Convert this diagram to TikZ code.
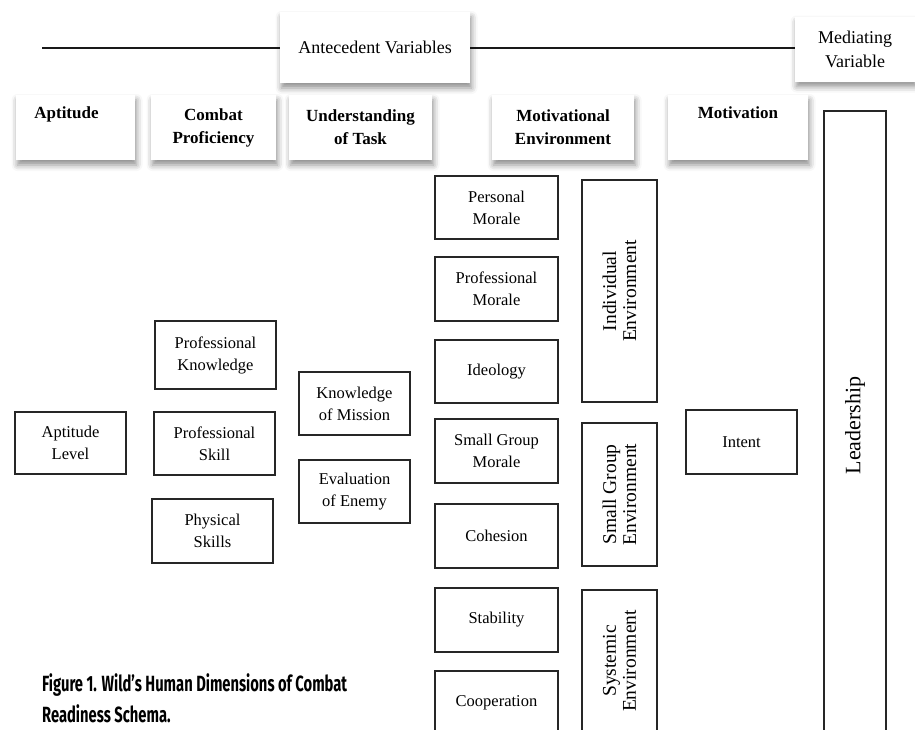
\documentclass[tikz,border=0pt]{standalone}
\usepackage{fontspec}
\setmainfont{Liberation Serif}
\newfontfamily\capfont{Fira Sans}
\usetikzlibrary{shadows.blur}

\begin{document}
\begin{tikzpicture}[x=1pt,y=-1pt,
  box/.style={draw=black!85, line width=1.3pt, fill=white, inner sep=0pt,
    align=center, font=\fontsize{16.5}{22}\selectfont},
  vtext/.style={rotate=90, align=center, inner sep=0pt,
    font=\fontsize{19.5}{20}\selectfont},
  shade/.style={blur shadow={shadow xshift=1.5pt, shadow yshift=-5pt,
      shadow blur radius=6pt, shadow opacity=45}},
  hdr/.style={fill=white, inner sep=0pt, align=center, shade,
    font=\fontsize{17}{23}\selectfont\bfseries},
  toplabel/.style={fill=white, inner sep=0pt, align=center, shade,
    font=\fontsize{18}{24}\selectfont},
  rule/.style={line width=2pt, black!90},
  caption/.style={anchor=base west, inner sep=0pt,
    font=\capfont\bfseries\fontsize{22}{22}\selectfont}
]
\useasboundingbox (0,0) rectangle (915,729);
\clip (0,0) rectangle (915,729);

% ---- variable group labels and rule ----
\coordinate (rulestart) at (42,48);
\draw[rule] (rulestart) -- (801,48) coordinate (ruleend);
\node[toplabel, minimum width=190, minimum height=71] (ante) at (375,47.5) {Antecedent Variables};
\node[toplabel, minimum width=120, minimum height=65] (med) at (855,49) {Mediating\\Variable};

% ---- column headers ----
\node[hdr, minimum width=119, minimum height=65] (hApt) at (75.5,127.5) {Aptitude\hspace*{18pt}\\\strut};
\node[hdr, minimum width=125, minimum height=65] (hCP) at (213.5,127.5) {Combat\\Proficiency};
\node[hdr, minimum width=143, minimum height=65] (hUT) at (360.5,127.5) {Understanding\\of Task};
\node[hdr, minimum width=142, minimum height=65] (hME) at (563,127.5) {Motivational\\Environment};
\node[hdr, minimum width=140, minimum height=65] (hMot) at (738,127.5) {Motivation\\\strut};

% ---- aptitude, proficiency, task ----
\node[box, minimum width=111, minimum height=62] (al) at (70.5,443) {Aptitude\\Level};
\node[box, minimum width=121, minimum height=68] (pk) at (215.5,355) {Professional\\Knowledge};
\node[box, minimum width=121, minimum height=63] (ps) at (214.5,443.5) {Professional\\Skill};
\node[box, minimum width=121, minimum height=64] (phs) at (212.5,531) {Physical\\Skills};
\node[box, minimum width=111, minimum height=63] (km) at (354.5,403.5) {Knowledge\\of Mission};
\node[box, minimum width=111, minimum height=63] (ee) at (354.5,491.5) {Evaluation\\of Enemy};

% ---- motivational environment factors ----
\node[box, minimum width=123, minimum height=63] (pm) at (496.5,207.5) {Personal\\Morale};
\node[box, minimum width=123, minimum height=64] (prm) at (496.5,289) {Professional\\Morale};
\node[box, minimum width=123, minimum height=63] (ideo) at (496.5,371.5) {Ideology};
\node[box, minimum width=123, minimum height=64] (sgm) at (496.5,451) {Small Group\\Morale};
\node[box, minimum width=123, minimum height=64] (coh) at (496.5,536) {Cohesion};
\node[box, minimum width=123, minimum height=64] (stab) at (496.5,620) {Stability};
\node[box, minimum width=123, minimum height=64] (coop) at (496.5,703) {Cooperation};

% ---- environment groupings ----
\node[box, minimum width=75, minimum height=222] (ie) at (619.5,291) {};
\node[vtext] (ieT) at (ie.center) {Individual\\Environment};
\node[box, minimum width=75, minimum height=143] (sge) at (619.5,494.5) {};
\node[vtext] (sgeT) at (sge.center) {Small Group\\Environment};
\node[box, minimum width=75, minimum height=142] (se) at (619.5,661) {};
\node[vtext] (seT) at (se.center) {Systemic\\Environment};

% ---- motivation and leadership ----
\node[box, minimum width=111, minimum height=64] (intent) at (741.5,442) {Intent};
\node[box, minimum width=62, minimum height=629] (lead) at (855,425.5) {};
\node[vtext, font=\fontsize{22}{22}\selectfont] (leadT) at (lead.center) {Leadership};

% ---- caption ----
\node[caption] (cap1) at (42,691) {\scalebox{0.67}[1]{Figure 1. Wild’s Human Dimensions of Combat}};
\node[caption] (cap2) at (42,722) {\scalebox{0.67}[1]{Readiness Schema.}};
\end{tikzpicture}
\end{document}
